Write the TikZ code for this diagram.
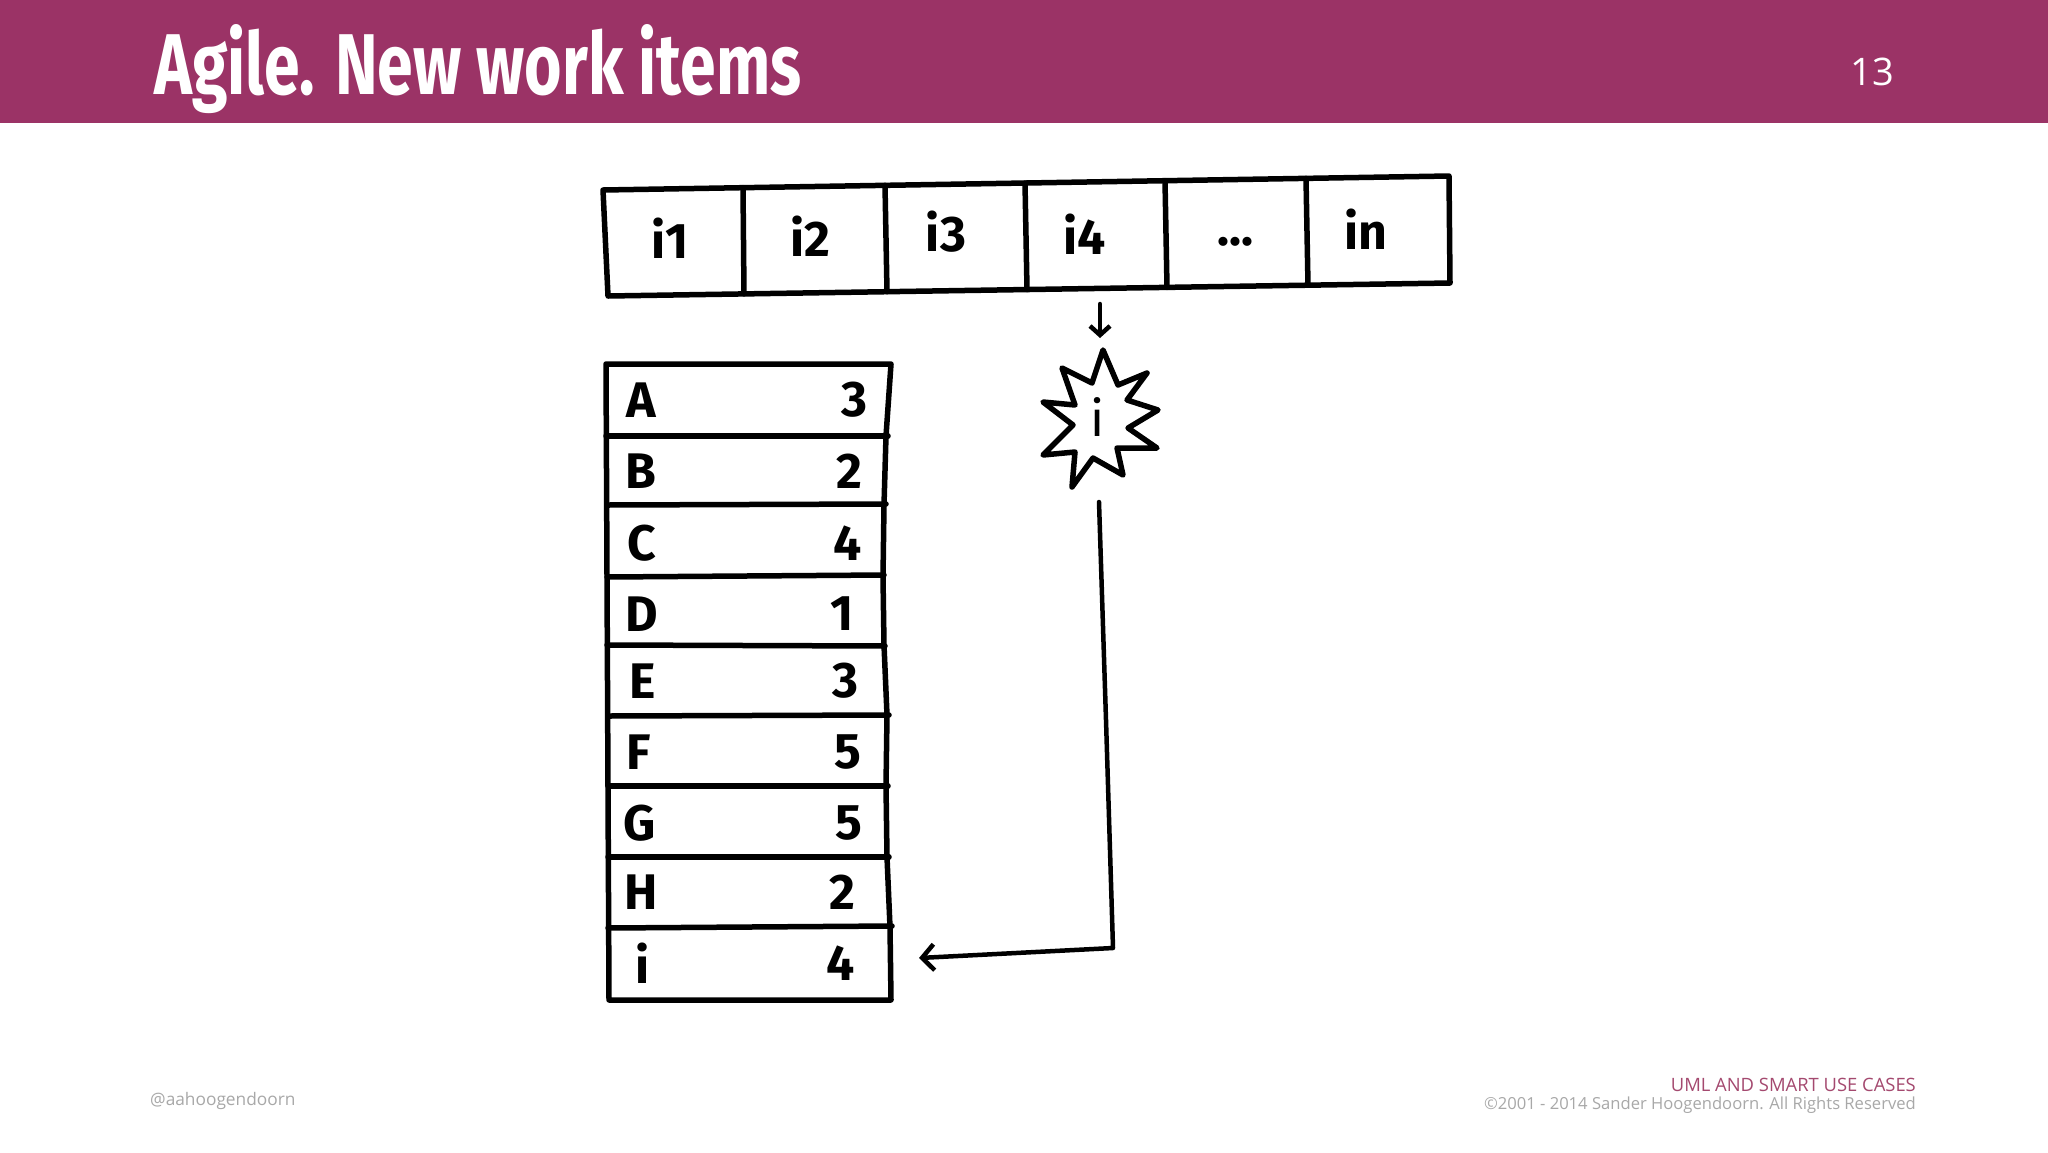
\documentclass[tikz,border=0pt]{standalone}
\usepackage{fontspec}
\setmainfont{Fira Sans}
\newfontfamily\opensans{Open Sans}
\usetikzlibrary{arrows.meta}
\definecolor{plum}{HTML}{9B3366}
\definecolor{footplum}{HTML}{A4496F}
\definecolor{footgray}{HTML}{A8A8A8}
\begin{document}
\begin{tikzpicture}[x=1pt,y=-1pt,
  ink/.style={line width=5.5pt, line join=round, line cap=round},
  hand/.style={font=\fontsize{50}{50}\selectfont\bfseries, inner sep=0pt},
  conn/.style={line width=4.5pt, line cap=round, line join=round,
    -{Straight Barb[length=12pt,width=26pt,line width=4.5pt]}},
  smallconn/.style={line width=4.5pt, line cap=round, line join=round,
    -{Straight Barb[length=9pt,width=20pt,line width=4.5pt]}},
  foot/.style={inner sep=0pt, font=\opensans\fontsize{17.3}{17.3}\selectfont}
]
\useasboundingbox (0,0) rectangle (2048,1152);
\fill[white] (0,0) rectangle (2048,1152);
% header
\fill[plum] (0,0) rectangle (2048,123);
\node[anchor=base west, inner sep=0pt, text=white] (title) at (154,94)
  {\resizebox{647pt}{70pt}{\bfseries Agile. New work items}};
\node[anchor=base east, inner sep=0pt, text=white, font=\opensans\fontsize{38}{38}\selectfont] (pg) at (1894,85) {13};

% top row of work items
\draw[ink] (603,190) -- (1449,176) -- (1450,283) -- (608,296) -- cycle;
\draw[ink] (743,187.7) -- (744,293.9);
\draw[ink] (885,185.3) -- (887,291.7);
\draw[ink] (1025,183.0) -- (1027,289.5);
\draw[ink] (1165,180.7) -- (1167,287.4);
\draw[ink] (1306,178.4) -- (1308,285.2);
\node[hand] (c1) at (670,238) {i1};
\node[hand] (c2) at (810,236) {i2};
\node[hand] (c3) at (946,232) {i3};
\node[hand] (c4) at (1085,234) {i4};
\node[hand, anchor=base] (c5) at (1235,245) {...};
\node[hand] (c6) at (1366,229) {in};

% backlog table
\draw[ink] (606,364) -- (891,364) -- (886,436) -- (884,505) -- (883,577) -- (884,645)
  -- (887,715) -- (886,786) -- (887,857) -- (890,927) -- (891,1000) -- (609,1000) -- cycle;
\draw[ink] (606,436) -- (888,436);
\draw[ink] (607,505) -- (886,504);
\draw[ink] (607,577) -- (884,575);
\draw[ink] (607,645) -- (885,646);
\draw[ink] (608,716) -- (889,715);
\draw[ink] (608,786) -- (888,786);
\draw[ink] (608,857) -- (889,857);
\draw[ink] (608,928) -- (892,926);

\node[hand] (lA) at (641,400) {A};
\node[hand] (lB) at (641,471) {B};
\node[hand] (lC) at (642,543) {C};
\node[hand] (lD) at (642,614) {D};
\node[hand] (lE) at (643,681) {E};
\node[hand] (lF) at (639,752) {F};
\node[hand] (lG) at (640,823) {G};
\node[hand] (lH) at (641,892) {H};
\node[hand] (lI) at (643,963) {i};

\node[hand] (nA) at (854,400) {3};
\node[hand] (nB) at (849,471) {2};
\node[hand] (nC) at (848,543) {4};
\node[hand] (nD) at (842,614) {1};
\node[hand] (nE) at (845,681) {3};
\node[hand] (nF) at (848,752) {5};
\node[hand] (nG) at (849,823) {5};
\node[hand] (nH) at (842,892) {2};
\node[hand] (nI) at (841,963) {4};

% star (new item)
\draw[ink] (1103,350) -- (1118,385) -- (1147,373) -- (1127,400) -- (1158,410)
  -- (1128,428) -- (1157,448) -- (1117,448) -- (1123,475) -- (1093,458)
  -- (1072,487) -- (1075,452) -- (1043,455) -- (1073,425) -- (1043,402)
  -- (1075,405) -- (1062,368) -- (1092,383) -- cycle;
\node[inner sep=0pt, font=\fontsize{50}{50}\selectfont] (star) at (1098,417) {i};

% connectors
\coordinate (downS) at (1100,304);
\coordinate (downE) at (1100,338);
\draw[smallconn] (downS) -- (downE);
\coordinate (lineS) at (1099,502);
\coordinate (corner) at (1113,948);
\coordinate (tip) at (919,958);
\draw[conn] (lineS) -- (1106,720) -- (corner) -- (tip);

% footer
\node[foot, anchor=west, text=footgray] (handle) at (150,1101) {@aahoogendoorn};
\node[foot, anchor=east, text=footplum, font=\opensans\fontsize{18.4}{18.4}\selectfont] (course) at (1916,1085) {UML AND SMART USE CASES};
\node[foot, anchor=east, text=footgray, font=\opensans\fontsize{16.6}{16.6}\selectfont] (copy) at (1916,1105)
  {©2001 - 2014 Sander Hoogendoorn. All Rights Reserved};
\end{tikzpicture}
\end{document}
